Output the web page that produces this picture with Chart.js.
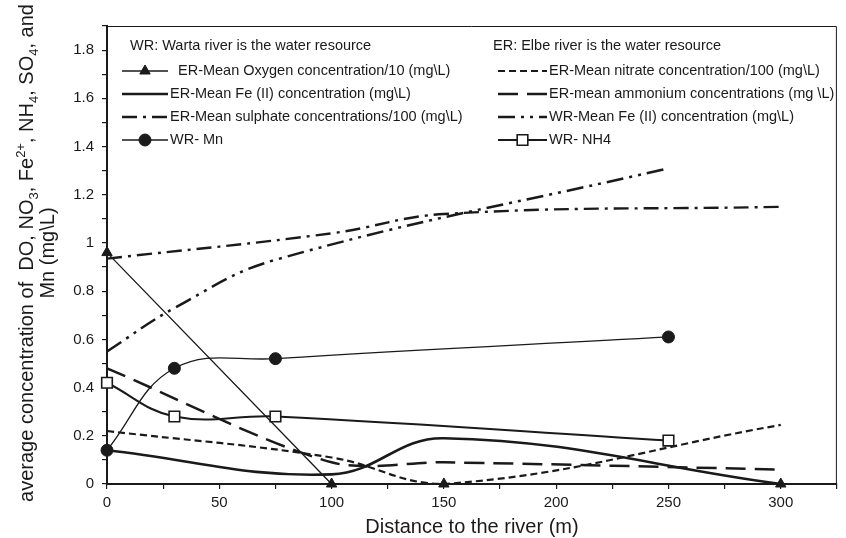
<!DOCTYPE html>
<html>
<head>
<meta charset="utf-8">
<script src="https://cdn.jsdelivr.net/npm/chart.js@4.4.1/dist/chart.umd.min.js"></script>
<style>
  html, body { margin: 0; padding: 0; background: #fff; }
  #wrap { width: 846px; height: 538px; }
</style>
</head>
<body>
<div id="wrap"><canvas id="chart" width="846" height="538"></canvas></div>
<script>
// sampling distances (m)
const distER = [0, 100, 150, 300];
const distWR = [0, 30, 75, 250];

// ER: Elbe river is the water resource
const erOxygen = [0.96, 0, 0, 0];            // /10
const erFe = [0.14, 0.04, 0.19, 0];
const erSulphate = [0.935, 1.04, 1.12, 1.15]; // /100
const erNitrate = [0.22, 0.11, 0, 0.245];     // /100
const erAmmonium = [0.48, 0.09, 0.09, 0.06];

// WR: Warta river is the water resource
const wrFe = [0.55, 0.73, 0.93, 1.31];
const wrMn = [0.14, 0.48, 0.52, 0.61];
const wrNH4 = [0.42, 0.28, 0.28, 0.18];

// labelled ticks
const xTickLabels = [0, 50, 100, 150, 200, 250, 300];
const yTickLabels = [0, 0.2, 0.4, 0.6, 0.8, 1, 1.2, 1.4, 1.6, 1.8];

const leftHeader = 'WR: Warta river is the water resource';
const rightHeader = 'ER: Elbe river is the water resource';

const FONT = '"Liberation Sans", Arial, sans-serif';
const INK = '#1a1a1a';

const pts = (xs, ys) => xs.map((x, i) => ({ x: x, y: ys[i] }));

const datasets = [
    {
        label: 'ER-Mean Oxygen concentration/10 (mg\\L)',
        data: pts(distER, erOxygen),
        borderColor: INK, borderWidth: 1.3, tension: 0,
        pointStyle: 'triangle', pointRadius: 6,
        pointBackgroundColor: INK, pointBorderColor: INK, pointBorderWidth: 1,
        clip: false
    },
    {
        label: 'ER-Mean Fe (II) concentration (mg\\L)',
        data: pts(distER, erFe),
        borderColor: INK, borderWidth: 2.6, tension: 0.4, pointRadius: 0
    },
    {
        label: 'ER-Mean sulphate concentrations/100 (mg\\L)',
        data: pts(distER, erSulphate),
        borderColor: INK, borderWidth: 2.4, borderDash: [15, 6, 3, 6],
        tension: 0.4, pointRadius: 0
    },
    {
        label: 'WR- Mn',
        data: pts(distWR, wrMn),
        borderColor: INK, borderWidth: 1.3, tension: 0.4,
        pointStyle: 'circle', pointRadius: 6,
        pointBackgroundColor: INK, pointBorderColor: INK, pointBorderWidth: 1,
        clip: false
    },
    {
        label: 'ER-Mean nitrate concentration/100 (mg\\L)',
        data: pts(distER, erNitrate),
        borderColor: INK, borderWidth: 2.2, borderDash: [7, 4],
        tension: 0.4, pointRadius: 0
    },
    {
        label: 'ER-mean ammonium concentrations (mg \\L)',
        data: pts(distER, erAmmonium),
        borderColor: INK, borderWidth: 2.5, borderDash: [20, 9],
        tension: 0.3, pointRadius: 0
    },
    {
        label: 'WR-Mean Fe (II) concentration (mg\\L)',
        data: pts(distWR, wrFe),
        borderColor: INK, borderWidth: 2.5, borderDash: [17, 6, 3, 6, 3, 6],
        tension: 0.4, pointRadius: 0
    },
    {
        label: 'WR- NH4',
        data: pts(distWR, wrNH4),
        borderColor: INK, borderWidth: 2, tension: 0.4,
        pointStyle: 'rect', pointRadius: 7.5,
        pointBackgroundColor: '#fff', pointBorderColor: INK, pointBorderWidth: 1.6,
        clip: false
    }
];

function drawSymbol(ctx, ds, x0, x1, y) {
    ctx.save();
    ctx.strokeStyle = ds.borderColor;
    ctx.lineWidth = ds.borderWidth;
    ctx.setLineDash(ds.borderDash || []);
    ctx.beginPath();
    ctx.moveTo(x0, y);
    ctx.lineTo(x1, y);
    ctx.stroke();
    ctx.setLineDash([]);
    if (ds.pointRadius > 0) {
        ctx.fillStyle = ds.pointBackgroundColor;
        ctx.strokeStyle = ds.pointBorderColor;
        ctx.lineWidth = ds.pointBorderWidth;
        Chart.helpers.drawPoint(ctx, {
            pointStyle: ds.pointStyle, radius: ds.pointRadius,
            rotation: 0, borderWidth: ds.pointBorderWidth
        }, (x0 + x1) / 2, y);
    }
    ctx.restore();
}

// text with sub/superscripts, drawn rotated around (cx, cy)
function richWidth(ctx, segs, big, small) {
    let w = 0;
    segs.forEach(s => {
        ctx.font = (s[1] ? small : big) + 'px ' + FONT;
        w += ctx.measureText(s[0]).width;
    });
    return w;
}
function drawRich(ctx, segs, baseX, cy, big, small) {
    ctx.save();
    ctx.translate(baseX, cy);
    ctx.rotate(-Math.PI / 2);
    let x = -richWidth(ctx, segs, big, small) / 2;
    ctx.textBaseline = 'alphabetic';
    ctx.textAlign = 'left';
    segs.forEach(s => {
        ctx.font = (s[1] ? small : big) + 'px ' + FONT;
        const dy = s[1] === 1 ? 5 : (s[1] === 2 ? -8 : 0);
        ctx.fillText(s[0], x, dy);
        x += ctx.measureText(s[0]).width;
    });
    ctx.restore();
}

const decor = {
    id: 'decor',
    afterDraw(chart) {
        const ctx = chart.ctx;
        const a = chart.chartArea;
        const ds = chart.data.datasets;
        ctx.save();

        // frame top and right
        ctx.strokeStyle = INK;
        ctx.lineWidth = 1;
        ctx.beginPath();
        ctx.moveTo(a.left, a.top + 0.5);
        ctx.lineTo(a.right - 0.5, a.top + 0.5);
        ctx.lineTo(a.right - 0.5, a.bottom);
        ctx.stroke();

        // legend
        ctx.fillStyle = INK;
        ctx.font = '14.5px ' + FONT;
        ctx.textBaseline = 'middle';
        ctx.textAlign = 'left';
        const rows = [71, 94, 117, 140];
        ctx.fillText(leftHeader, 130, 46);
        ctx.fillText(rightHeader, 493, 46);
        [0, 1, 2, 3].forEach((di, r) => {
            drawSymbol(ctx, ds[di], 122, 168, rows[r]);
            ctx.fillStyle = INK;
            ctx.font = '14.5px ' + FONT;
            ctx.fillText(ds[di].label, di === 0 ? 178 : 170, rows[r]);
        });
        [4, 5, 6, 7].forEach((di, r) => {
            drawSymbol(ctx, ds[di], 498, 547, rows[r]);
            ctx.fillStyle = INK;
            ctx.font = '14.5px ' + FONT;
            ctx.fillText(ds[di].label, 549, rows[r]);
        });

        // axis titles
        ctx.fillStyle = INK;
        ctx.font = '20px ' + FONT;
        ctx.textAlign = 'center';
        ctx.textBaseline = 'alphabetic';
        ctx.fillText('Distance to the river (m)', (a.left + a.right) / 2, 533);

        const line1 = [
            ['average concentration of  DO, NO', 0], ['3', 1], [', Fe', 0], ['2+', 2],
            [', NH', 0], ['4', 1], [', SO', 0], ['4', 1], [', and', 0]
        ];
        drawRich(ctx, line1, 33, 253, 20, 13);
        drawRich(ctx, [['Mn (mg\\L)', 0]], 54, 253, 20, 13);
        ctx.restore();
    }
};

new Chart(document.getElementById('chart'), {
    type: 'line',
    data: { datasets: datasets },
    options: {
        responsive: false,
        animation: false,
        devicePixelRatio: 1,
        layout: { padding: { top: 26, right: 4, left: 0, bottom: 0 } },
        plugins: { legend: { display: false }, tooltip: { enabled: false } },
        scales: {
            x: {
                type: 'linear', min: 0, max: 325,
                afterFit: s => { s.height = 54; },
                grid: { drawOnChartArea: false, drawTicks: true, tickLength: 5, color: INK, lineWidth: 1.2 },
                border: { display: true, color: INK, width: 2 },
                ticks: {
                    stepSize: 25, autoSkip: false, maxRotation: 0, padding: 5,
                    color: INK, font: { family: FONT, size: 15 },
                    callback: v => xTickLabels.includes(v) ? String(v) : ''
                }
            },
            y: {
                min: 0, max: 1.9,
                afterFit: s => { s.width = 107; },
                grid: { drawOnChartArea: false, drawTicks: true, tickLength: 5, color: INK, lineWidth: 1.2 },
                border: { display: true, color: INK, width: 2 },
                ticks: {
                    stepSize: 0.1, autoSkip: false, padding: 8,
                    color: INK, font: { family: FONT, size: 15 },
                    callback: v => {
                        const r = Math.round(v * 10) / 10;
                        return yTickLabels.includes(r) ? String(r) : '';
                    }
                }
            }
        }
    },
    plugins: [decor]
});
</script>
</body>
</html>
